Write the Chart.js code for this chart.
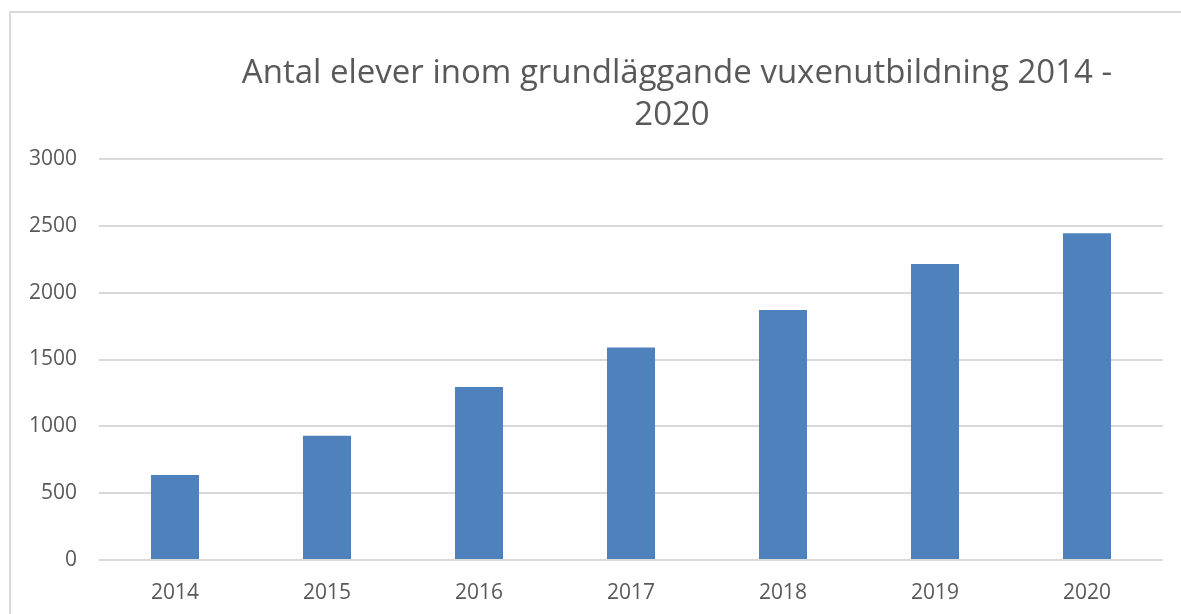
<!DOCTYPE html>
<html>
<head>
<meta charset="utf-8">
<script src="https://cdn.jsdelivr.net/npm/chart.js@4"></script>
<style>
  body { margin: 0; overflow: hidden; background: #fff; }
  #wrap { position: relative; width: 1181px; height: 614px; }
  #frame { position: absolute; left: 9px; top: 11px; width: 1300px; height: 700px; border: 2px solid #d9d9d9; box-sizing: border-box; }
  canvas { position: absolute; left: 0; top: 0; }
</style>
</head>
<body>
<div id="wrap">
  <div id="frame"></div>
  <canvas id="chart" width="1181" height="614"></canvas>
</div>
<script>
// Antal elever inom grundläggande vuxenutbildning 2014 - 2020
const years = ["2014", "2015", "2016", "2017", "2018", "2019", "2020"];
const students = [635, 930, 1295, 1590, 1870, 2215, 2445];
const titleLines = ["Antal elever inom grundläggande vuxenutbildning 2014 -", "2020"];

const textColor = "#595959";
const gridColor = "#d9d9d9";

// Draw the two-line title, centered like the original (offset to the right)
const titlePlugin = {
    id: "offsetTitle",
    afterDraw(chart) {
        const ctx = chart.ctx;
        ctx.save();
        ctx.font = '33px "Open Sans"';
        ctx.fillStyle = textColor;
        ctx.textAlign = "center";
        ctx.textBaseline = "middle";
        ctx.fillText(titleLines[0], 677, 74);
        ctx.fillText(titleLines[1], 672, 116);
        ctx.restore();
    }
};

new Chart(document.getElementById("chart"), {
    type: "bar",
    data: {
        labels: years,
        datasets: [{
            label: "Antal elever",
            data: students,
            backgroundColor: "#4f81bd",
            borderWidth: 0,
            barPercentage: 0.316,
            categoryPercentage: 1
        }]
    },
    options: {
        responsive: false,
        animation: false,
        layout: { padding: { left: 0, right: 18, top: 159, bottom: 0 } },
        scales: {
            x: {
                grid: { display: false },
                border: { display: false },
                ticks: { color: textColor, font: { family: "Open Sans", size: 21 }, padding: 12 },
                afterFit(scale) { scale.height = 54; }
            },
            y: {
                min: 0,
                max: 3000,
                ticks: {
                    stepSize: 500,
                    color: textColor,
                    font: { family: "Open Sans", size: 21 },
                    padding: 22,
                    callback: value => String(value)
                },
                grid: { color: gridColor, lineWidth: 2, drawTicks: false },
                border: { display: false },
                afterFit(scale) { scale.width = 99; }
            }
        },
        plugins: {
            legend: { display: false },
            title: { display: false },
            tooltip: { enabled: false }
        }
    },
    plugins: [titlePlugin]
});
</script>
</body>
</html>
